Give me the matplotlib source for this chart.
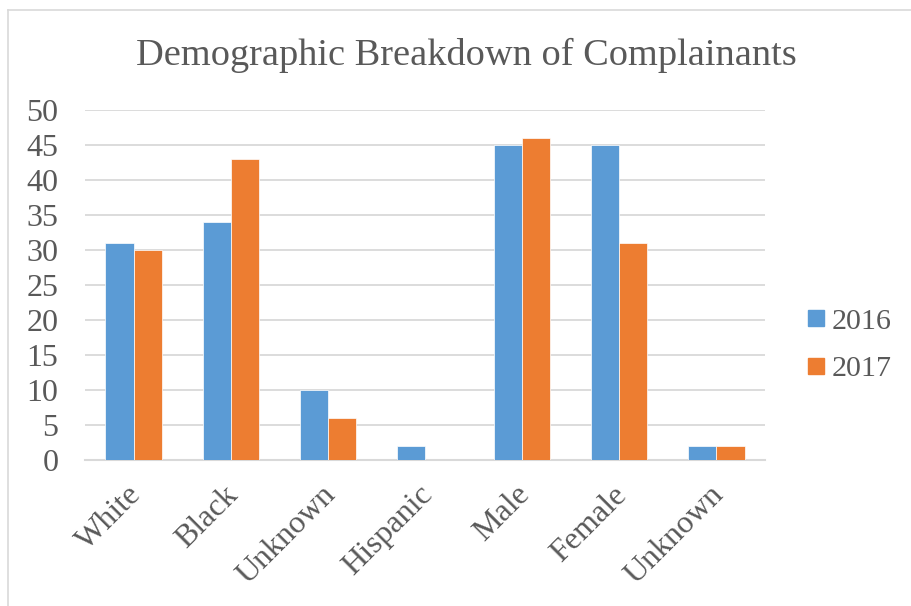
import numpy as np
import matplotlib.pyplot as plt
import matplotlib.transforms as mtransforms
from matplotlib.lines import Line2D

# --- Data ---
categories = ['White', 'Black', 'Unknown', 'Hispanic', 'Male', 'Female', 'Unknown']
vals_2016 = [31, 34, 10, 2, 45, 45, 2]
vals_2017 = [30, 43, 6, 0, 46, 31, 2]
yticks = [0, 5, 10, 15, 20, 25, 30, 35, 40, 45, 50]

blue = '#5B9BD5'
orange = '#ED7D31'
txt = '#595959'
grid = '#D9D9D9'

plt.rcParams['font.family'] = ['Liberation Serif', 'DejaVu Serif']

fig = plt.figure(figsize=(9.12, 6.06), dpi=100)
ax = fig.add_axes([85 / 912, 1 - 460 / 606, 680 / 912, 350 / 606])

x = np.arange(len(categories))
w = 0.29
ax.bar(x - w / 2, vals_2016, w, color=blue, edgecolor='white', linewidth=0.5, label='2016', zorder=3)
ax.bar(x + w / 2, vals_2017, w, color=orange, edgecolor='white', linewidth=0.5, label='2017', zorder=3)

ax.set_xlim(-0.5, len(categories) - 0.5)
ax.set_ylim(0, 50)
ax.set_yticks(yticks)
ax.yaxis.grid(True, color=grid, linewidth=1.3, zorder=0)
ax.set_axisbelow(True)
for s in ['top', 'right', 'left']:
    ax.spines[s].set_visible(False)
ax.spines['bottom'].set_color(grid)
ax.spines['bottom'].set_linewidth(1.5)
ax.tick_params(axis='both', length=0, labelsize=23, labelcolor=txt)
ax.tick_params(axis='y', pad=19)
ax.set_xticks(x)
ax.set_xticklabels(categories, rotation=45, ha='right', va='top', rotation_mode='anchor')
ax.tick_params(axis='x', pad=6)
# nudge rotated labels left/down like the original
offset = mtransforms.ScaledTranslation(-7 / 100, -12 / 100, fig.dpi_scale_trans)
for lbl in ax.get_xticklabels():
    lbl.set_transform(lbl.get_transform() + offset)

fig.text(466 / 912, 1 - 55 / 606, 'Demographic Breakdown of Complainants',
         ha='center', va='center', fontsize=27.6, color=txt)

handles = [Line2D([], [], marker='s', linestyle='', markersize=11.5, color=blue),
           Line2D([], [], marker='s', linestyle='', markersize=11.5, color=orange)]
fig.legend(handles, ['2016', '2017'], loc='center left', bbox_to_anchor=(808 / 912, 1 - 345 / 606),
           frameon=False, fontsize=21.6, labelcolor=txt, handletextpad=0.25, labelspacing=0.67,
           handlelength=0.55, borderpad=0, borderaxespad=0)

# chart frame (left and top edges visible)
fig.add_artist(Line2D([8 / 912, 8 / 912], [0, 1 - 10 / 606], transform=fig.transFigure, color=grid, linewidth=1.2))
fig.add_artist(Line2D([8 / 912, 1], [1 - 10 / 606, 1 - 10 / 606], transform=fig.transFigure, color=grid, linewidth=1.2))

fig.savefig('out.png', dpi=100)
